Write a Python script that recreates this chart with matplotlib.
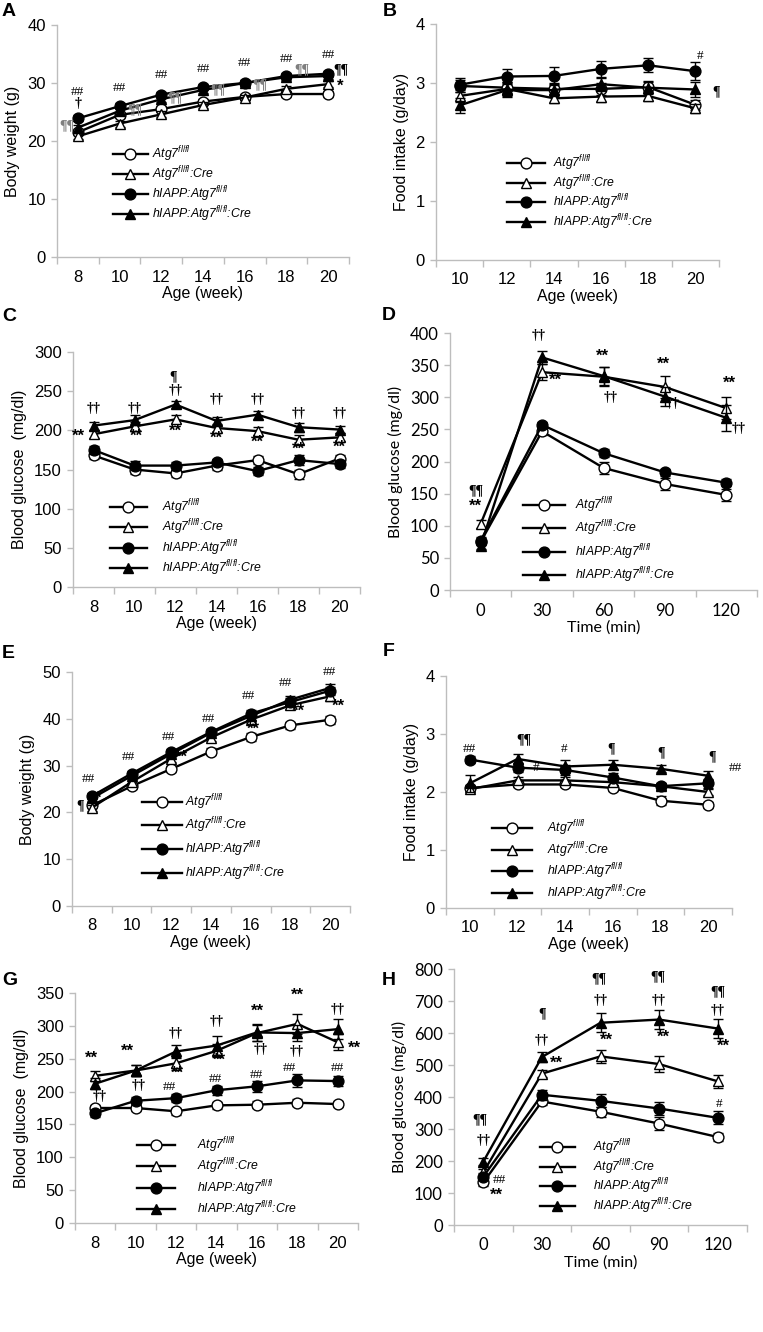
import matplotlib
matplotlib.use('Agg')
import matplotlib.pyplot as plt
from matplotlib.lines import Line2D
import numpy as np

plt.rcParams['font.family'] = ['Liberation Sans', 'DejaVu Sans']
plt.rcParams['mathtext.fontset'] = 'custom'
plt.rcParams['mathtext.rm'] = 'Liberation Sans'
plt.rcParams['mathtext.it'] = 'Liberation Sans:italic'

# ---------------- data ----------------
series_labels = ['Atg7$^{fl/fl}$', 'Atg7$^{fl/fl}$:Cre',
                 'hIAPP:Atg7$^{fl/fl}$', 'hIAPP:Atg7$^{fl/fl}$:Cre']
weeks_8_20 = ['8', '10', '12', '14', '16', '18', '20']
weeks_10_20 = ['10', '12', '14', '16', '18', '20']
time_min = ['0', '30', '60', '90', '120']

# A: body weight (g)
a_atg7 = [21.5, 24.5, 25.5, 26.8, 27.6, 28.1, 28.1]
a_cre = [20.8, 23.0, 24.6, 26.2, 27.5, 29.0, 29.8]
a_hiapp = [23.9, 26.0, 28.0, 29.3, 30.0, 31.2, 31.6]
a_hiapp_cre = [22.3, 25.2, 27.2, 28.8, 30.0, 31.0, 31.2]
a_err = [0.5, 0.5, 0.5, 0.5, 0.5, 0.5, 0.5]

# B: food intake (g/day)
b_atg7 = [2.95, 2.92, 2.90, 2.90, 2.93, 2.63]
b_cre = [2.78, 2.90, 2.74, 2.77, 2.78, 2.57]
b_hiapp = [2.97, 3.11, 3.12, 3.24, 3.30, 3.20]
b_hiapp_cre = [2.62, 2.88, 2.88, 2.98, 2.92, 2.89]
b_err_atg7 = [0.10, 0.10, 0.10, 0.10, 0.10, 0.08]
b_err_cre = [0.10, 0.12, 0.08, 0.10, 0.08, 0.08]
b_err_hiapp = [0.12, 0.13, 0.15, 0.14, 0.12, 0.15]
b_err_hiapp_cre = [0.12, 0.12, 0.10, 0.10, 0.10, 0.12]

# C: blood glucose (mg/dl)
c_atg7 = [168, 150, 145, 155, 162, 144, 164]
c_cre = [195, 205, 214, 203, 199, 188, 191]
c_hiapp = [175, 155, 155, 159, 148, 162, 157]
c_hiapp_cre = [206, 213, 233, 212, 220, 204, 201]
c_err = [5, 6, 5, 5, 5, 6, 5]

# D: glucose tolerance (mg/dl)
d_atg7 = [75, 247, 190, 165, 148]
d_cre = [103, 339, 332, 316, 283]
d_hiapp = [77, 257, 213, 183, 167]
d_hiapp_cre = [69, 362, 333, 301, 268]
d_err_atg7 = [5, 5, 10, 10, 9]
d_err_cre = [6, 12, 15, 17, 17]
d_err_hiapp = [5, 5, 6, 6, 5]
d_err_hiapp_cre = [5, 10, 14, 15, 20]

# E: body weight (g)
e_atg7 = [21.5, 25.6, 29.3, 33.0, 36.1, 38.6, 39.8]
e_cre = [21.0, 26.5, 31.5, 36.0, 39.8, 42.9, 44.8]
e_hiapp = [23.5, 28.3, 32.9, 37.2, 41.1, 43.6, 46.0]
e_hiapp_cre = [23.0, 27.8, 32.5, 37.0, 40.6, 44.1, 46.6]
e_err = [0.6, 0.6, 0.7, 0.7, 0.8, 0.8, 0.9]

# F: food intake (g/day)
f_atg7 = [2.07, 2.13, 2.13, 2.07, 1.85, 1.78]
f_cre = [2.05, 2.20, 2.20, 2.17, 2.10, 2.00]
f_hiapp = [2.56, 2.42, 2.38, 2.25, 2.10, 2.15]
f_hiapp_cre = [2.15, 2.57, 2.44, 2.47, 2.40, 2.28]
f_err_atg7 = [0.05, 0.05, 0.05, 0.05, 0.08, 0.05]
f_err_cre = [0.05, 0.06, 0.06, 0.05, 0.06, 0.06]
f_err_hiapp = [0.06, 0.08, 0.08, 0.08, 0.06, 0.08]
f_err_hiapp_cre = [0.15, 0.09, 0.12, 0.08, 0.06, 0.08]

# G: blood glucose (mg/dl)
g_atg7 = [175, 175, 170, 179, 180, 183, 181]
g_cre = [224, 232, 243, 262, 289, 303, 275]
g_hiapp = [167, 186, 190, 202, 208, 217, 216]
g_hiapp_cre = [212, 232, 261, 270, 290, 289, 295]
g_err_atg7 = [5, 5, 5, 5, 5, 5, 5]
g_err_cre = [8, 8, 10, 10, 12, 15, 12]
g_err_hiapp = [5, 5, 6, 7, 8, 10, 8]
g_err_hiapp_cre = [8, 8, 10, 15, 13, 12, 15]

# H: glucose tolerance (mg/dl)
h_atg7 = [133, 386, 354, 317, 275]
h_cre = [165, 473, 527, 503, 449]
h_hiapp = [151, 407, 388, 364, 335]
h_hiapp_cre = [198, 525, 632, 642, 614]
h_err_atg7 = [10, 10, 15, 20, 12]
h_err_cre = [10, 12, 20, 25, 20]
h_err_hiapp = [10, 15, 20, 20, 20]
h_err_hiapp_cre = [12, 15, 30, 30, 30]

# ---------------- drawing ----------------
W, H = 763, 1332
fig = plt.figure(figsize=(W / 100, H / 100), dpi=100)

GRAY = '#bdbdbd'
STYLES = [dict(marker='o', mfc='white'), dict(marker='^', mfc='white'),
          dict(marker='o', mfc='black'), dict(marker='^', mfc='black')]
MS = [7.8, 7.8, 7.8, 7.8]
SERIF = ['Liberation Serif', 'DejaVu Serif']


def annot_style(s):
    if '*' in s:
        return dict(fontsize=12, fontweight='bold', family=['Liberation Sans', 'DejaVu Sans'])
    if '#' in s:
        return dict(fontsize=9.5, family=SERIF)
    return dict(fontsize=10, family=SERIF, fontweight='bold')


def panel(rect, xlabels, ys, errs, ylim, yticks, ylabel, xlabel, annots, leg,
          letter, letter_xy, tfont=None):
    xl, yt, xr, yb = rect
    ax = fig.add_axes([xl / W, 1 - yb / H, (xr - xl) / W, (yb - yt) / H])
    n = len(xlabels)
    x = np.arange(n)
    for i, (y, e) in enumerate(zip(ys, errs)):
        ax.errorbar(x, y, yerr=e, color='black', lw=1.7, ms=MS[i], mec='black',
                    mew=1.0, capsize=3.5, elinewidth=1.0, capthick=1.0,
                    clip_on=False, zorder=3 + i, **STYLES[i])
    ax.set_xlim(-0.5, n - 0.5)
    ax.set_ylim(*ylim)
    ax.set_yticks(yticks)
    ax.set_xticks(x)
    ax.set_xticklabels(xlabels)
    ax.set_xticks(np.arange(-0.5, n, 1.0), minor=True)
    ax.tick_params(axis='x', which='major', length=0, pad=9)
    ax.tick_params(axis='x', which='minor', length=5, color=GRAY, width=1)
    ax.tick_params(axis='y', length=4, color=GRAY, width=1, pad=4)
    for s in ('top', 'right'):
        ax.spines[s].set_visible(False)
    for s in ('left', 'bottom'):
        ax.spines[s].set_color(GRAY)
        ax.spines[s].set_linewidth(1.0)
    fam = tfont if tfont else ['Liberation Sans', 'DejaVu Sans']
    for lab in ax.get_xticklabels() + ax.get_yticklabels():
        lab.set_fontsize(12)
        lab.set_family(fam)
    ax.set_ylabel(ylabel, fontsize=11.5, family=fam, labelpad=5)
    ax.set_xlabel(xlabel, fontsize=11.5, family=fam, labelpad=1)
    for a in annots:
        s, xi, yv = a[0], a[1], a[2]
        col = a[3] if len(a) > 3 else 'black'
        ax.text(xi, yv, s, ha='center', va='center', color=col, zorder=10,
                clip_on=False, **annot_style(s))
    # legend
    x0, y1, hl, tx, dy = leg
    fs = 8.8
    handles = [Line2D([], [], color='black', lw=1.7, ms=MS[i], mec='black',
                      mew=1.0, **STYLES[i]) for i in range(4)]
    rowh = 17.5
    ax.legend(handles, series_labels, loc='upper left',
              bbox_to_anchor=(x0 / W, 1 - (y1 - rowh / 2) / H),
              bbox_transform=fig.transFigure, frameon=False,
              borderpad=0, borderaxespad=0,
              handlelength=hl / 1.389 / fs,
              handletextpad=(tx - x0 - hl) / 1.389 / fs,
              labelspacing=max(dy - rowh, 0.2) / 1.389 / fs,
              prop=dict(style='italic', size=fs, family='Liberation Sans'))
    fig.text(letter_xy[0] / W, 1 - letter_xy[1] / H, letter, fontsize=14,
             fontweight='bold', ha='left', va='top')
    return ax


TF = ['Lato', 'DejaVu Sans']

# A
panel((57, 25, 349, 257), weeks_8_20,
      [a_atg7, a_cre, a_hiapp, a_hiapp_cre], [a_err] * 4,
      (0, 40), [0, 10, 20, 30, 40], 'Body weight (g)', 'Age (week)',
      [('##', 0, 28.4), ('†', 0, 26.4), ('##', 1, 29.2), ('##', 2, 31.4),
       ('##', 3, 32.5), ('##', 4, 33.4), ('##', 5, 34.1), ('##', 6, 34.8),
       ('¶¶', -0.26, 22.6, '#7f7f7f'), ('¶¶', 1.36, 25.4, '#7f7f7f'),
       ('¶¶', 2.32, 27.4, '#7f7f7f'), ('¶¶', 3.36, 28.8, '#7f7f7f'),
       ('¶¶', 4.36, 29.7, '#7f7f7f'), ('¶¶', 5.36, 32.2, '#7f7f7f'),
       ('¶¶', 6.3, 32.3), ('*', 6.28, 29.5)],
      (113, 153, 35, 152, 18), 'A', (2, 3))

# B
panel((436, 24, 719, 260), weeks_10_20,
      [b_atg7, b_cre, b_hiapp, b_hiapp_cre],
      [b_err_atg7, b_err_cre, b_err_hiapp, b_err_hiapp_cre],
      (0, 4), [0, 1, 2, 3, 4], 'Food intake (g/day)', 'Age (week)',
      [('#', 5.1, 3.45), ('¶', 5.43, 2.86)],
      (507, 162, 38, 553, 17.7), 'B', (383, 3))

# C
panel((73, 352, 360, 587), weeks_8_20,
      [c_atg7, c_cre, c_hiapp, c_hiapp_cre], [c_err] * 4,
      (0, 300), [0, 50, 100, 150, 200, 250, 300], 'Blood glucose  (mg/dl)', 'Age (week)',
      [('**', -0.36, 192), ('††', 0, 228), ('††', 1, 228), ('††', 2, 251),
       ('¶', 1.95, 269), ('††', 3, 239), ('††', 4, 239), ('††', 5, 222),
       ('††', 6, 222), ('**', 1.05, 192), ('**', 2, 199), ('**', 3, 190),
       ('**', 4, 185), ('**', 5, 176), ('**', 6, 179)],
      (110, 506, 37, 162, 18.3), 'C', (2, 308))

# D
panel((450, 333, 757, 590), time_min,
      [d_atg7, d_cre, d_hiapp, d_hiapp_cre],
      [d_err_atg7, d_err_cre, d_err_hiapp, d_err_hiapp_cre],
      (0, 400), [0, 50, 100, 150, 200, 250, 300, 350, 400],
      'Blood glucose (mg/dl)', 'Time (min)',
      [('¶¶', -0.08, 154), ('**', -0.08, 131), ('††', 0.95, 396),
       ('**', 1.22, 326), ('**', 1.98, 364), ('††', 2.12, 299),
       ('**', 2.98, 351), ('††', 3.12, 291), ('**', 4.05, 322),
       ('††', 4.2, 252)],
      (523, 504, 42, 575, 21.3), 'D', (382, 307), tfont=TF)

# E
panel((72, 672, 350, 906), weeks_8_20,
      [e_atg7, e_cre, e_hiapp, e_hiapp_cre], [e_err] * 4,
      (0, 50), [0, 10, 20, 30, 40, 50], 'Body weight (g)', 'Age (week)',
      [('##', -0.08, 27.2), ('##', 0.93, 31.8), ('##', 1.93, 36.1),
       ('##', 2.93, 40.0), ('##', 3.93, 44.8), ('##', 4.88, 47.6),
       ('##', 5.97, 50.0), ('¶', -0.3, 21.4), ('*', 0.17, 23.0),
       ('**', 2.26, 31.7), ('**', 4.07, 37.7), ('**', 5.2, 41.7),
       ('**', 6.2, 42.7)],
      (142, 801, 40, 185, 21.5), 'E', (2, 645))

# F
panel((446, 676, 732, 908), weeks_10_20,
      [f_atg7, f_cre, f_hiapp, f_hiapp_cre],
      [f_err_atg7, f_err_cre, f_err_hiapp, f_err_hiapp_cre],
      (0, 4), [0, 1, 2, 3, 4], 'Food intake (g/day)', 'Age (week)',
      [('##', 0.0, 2.75), ('¶¶', 1.13, 2.9), ('#', 1.38, 2.42),
       ('#', 1.97, 2.75), ('¶', 2.96, 2.75), ('¶', 4.02, 2.67),
       ('¶', 5.08, 2.6), ('##', 5.58, 2.42)],
      (492, 827, 40, 547, 19.7), 'F', (383, 643))

# G
panel((75, 993, 358, 1223), weeks_8_20,
      [g_atg7, g_cre, g_hiapp, g_hiapp_cre],
      [g_err_atg7, g_err_cre, g_err_hiapp, g_err_hiapp_cre],
      (0, 350), [0, 50, 100, 150, 200, 250, 300, 350],
      'Blood glucose  (mg/dl)', 'Age (week)',
      [('**', -0.1, 250), ('††', 0.1, 193), ('**', 0.8, 261), ('††', 1.08, 208.5),
       ('††', 2.0, 289), ('**', 2.03, 228), ('##', 1.83, 207.5),
       ('††', 3.0, 306), ('**', 3.08, 248), ('##', 2.98, 218.7),
       ('**', 4.0, 322), ('††', 4.08, 264.5), ('##', 3.98, 225),
       ('**', 5.0, 347), ('††', 4.98, 261), ('##', 4.8, 235.5),
       ('††', 6.0, 324.5), ('**', 6.4, 266), ('##', 6.0, 235.5)],
      (137, 1144, 38, 197, 19.3), 'G', (2, 972))

# H
panel((454, 969, 747, 1225), time_min,
      [h_atg7, h_cre, h_hiapp, h_hiapp_cre],
      [h_err_atg7, h_err_cre, h_err_hiapp, h_err_hiapp_cre],
      (0, 800), [0, 100, 200, 300, 400, 500, 600, 700, 800],
      'Blood glucose (mg/dl)', 'Time (min)',
      [('¶¶', -0.05, 328), ('††', -0.0, 263), ('##', 0.28, 142), ('**', 0.23, 94),
       ('¶', 1.0, 661), ('††', 1.0, 575), ('**', 1.25, 505),
       ('¶¶', 1.98, 770), ('††', 2.0, 702), ('**', 2.1, 578),
       ('¶¶', 2.98, 775), ('††', 3.0, 702), ('**', 3.07, 588),
       ('¶¶', 4.0, 728), ('††', 4.0, 671), ('**', 4.1, 559), ('#', 4.02, 378)],
      (540, 1146, 35, 593, 17.7), 'H', (382, 972), tfont=TF)

fig.savefig('out.png', dpi=100)
